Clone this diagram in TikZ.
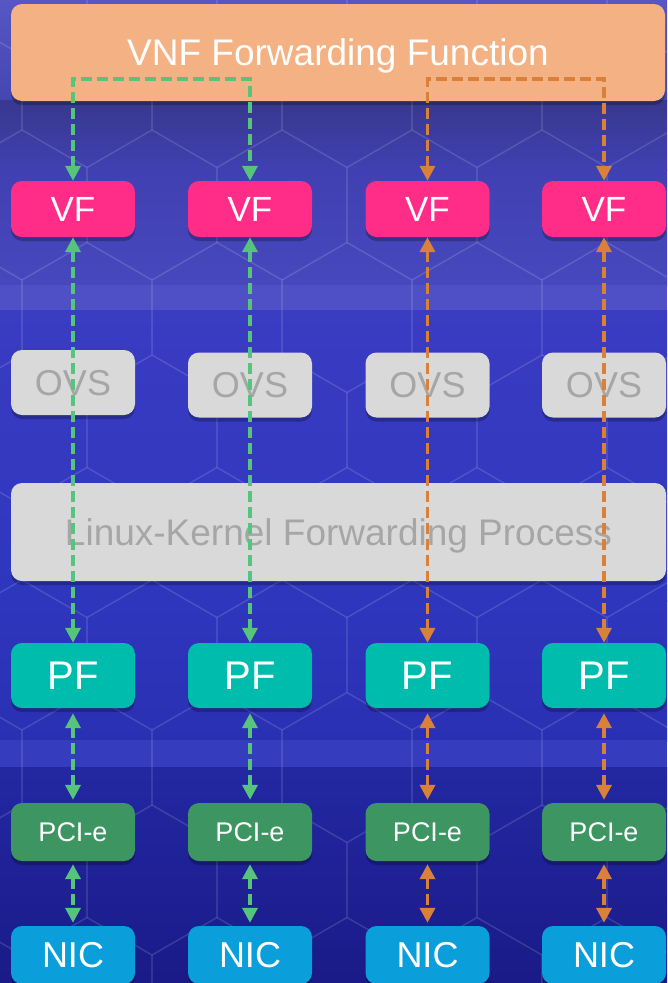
\documentclass[tikz,border=0pt]{standalone}
\usepackage{fontspec}
\setmainfont{Liberation Sans}
\usetikzlibrary{arrows.meta,shadows}
\definecolor{vnfc}{HTML}{F4B183}
\definecolor{vfc}{HTML}{FF2D88}
\definecolor{ovsc}{HTML}{D9D9D9}
\definecolor{ovst}{HTML}{A6A6A6}
\definecolor{pfc}{HTML}{00BCAD}
\definecolor{pcic}{HTML}{3D9562}
\definecolor{nicc}{HTML}{0A9FDB}
\definecolor{garr}{HTML}{57C47C}
\definecolor{oarr}{HTML}{D9803A}
\definecolor{bgA}{HTML}{5656C4}
\definecolor{bgB}{HTML}{4646B2}
\definecolor{bgC}{HTML}{38388E}
\definecolor{bgD}{HTML}{4040B2}
\definecolor{bgE}{HTML}{4848BE}
\definecolor{bgF}{HTML}{5050C6}
\definecolor{bgG}{HTML}{3A3CC2}
\definecolor{bgH}{HTML}{2E36BE}
\definecolor{bgI}{HTML}{2A30B2}
\definecolor{bgJ}{HTML}{363CBE}
\definecolor{bgK}{HTML}{2328A2}
\definecolor{bgL}{HTML}{1A1A88}
\tikzset{
  box/.style={rounded corners=11pt, inner sep=0pt, text=white, text depth=0pt,
    drop shadow={shadow xshift=0pt, shadow yshift=-4pt, opacity=0.25, fill=black}},
  smallbox/.style={box, minimum width=124pt},
  vfbox/.style={smallbox, fill=vfc, minimum height=56pt, font=\fontsize{35}{38}\selectfont},
  ovsbox/.style={smallbox, fill=ovsc, minimum height=65pt, text=ovst, font=\fontsize{36}{39}\selectfont},
  pfbox/.style={smallbox, fill=pfc, minimum height=65pt, font=\fontsize{40}{43}\selectfont},
  pcibox/.style={smallbox, fill=pcic, minimum height=58pt, font=\fontsize{27}{30}\selectfont},
  nicbox/.style={smallbox, fill=nicc, minimum height=58pt, font=\fontsize{36}{39}\selectfont},
  conn/.style={line width=3.6pt, dash pattern=on 11pt off 5pt, {Triangle[length=15pt,width=15pt]}-{Triangle[length=15pt,width=15pt]}},
  gconn/.style={conn, draw=garr},
  oconn/.style={conn, draw=oarr},
  hexline/.style={draw=white, opacity=0.07, line width=1.5pt}
}
\begin{document}
\begin{tikzpicture}[x=1pt,y=-1pt]
\useasboundingbox (0,0) rectangle (667,983);
% background
\begin{scope}
\clip (0,0) rectangle (667,983);
\shade[top color=bgA, bottom color=bgB] (0,0) rectangle (667,101);
\shade[top color=bgC, bottom color=bgD] (0,100) rectangle (667,170);
\shade[top color=bgD, bottom color=bgE] (0,169) rectangle (667,286);
\fill[bgF] (0,285) rectangle (667,311);
\shade[top color=bgG, bottom color=bgH] (0,310) rectangle (667,601);
\shade[top color=bgH, bottom color=bgI] (0,600) rectangle (667,741);
\fill[bgJ] (0,740) rectangle (667,768);
\shade[top color=bgK, bottom color=bgL] (0,767) rectangle (667,983);
\foreach \r in {0,...,10}{
  \foreach \c in {-1,...,5}{
    \pgfmathsetmacro\cx{\c*130+mod(\r,2)*65+22}
    \pgfmathsetmacro\cy{\r*112.5-20}
    \draw[hexline, shift={(\cx,\cy)}] (90:75) -- (150:75) -- (210:75) -- (270:75) -- (330:75) -- (30:75) -- cycle;
  }
}
\end{scope}
% boxes
\node[box, fill=vnfc, minimum width=654pt, minimum height=97pt, font=\fontsize{37}{40}\selectfont] (vnf) at (338,52.5) {VNF Forwarding Function};
\node[box, fill=ovsc, text=ovst, minimum width=655pt, minimum height=98pt, font=\fontsize{37}{40}\selectfont] (lk) at (338.5,532) {Linux-Kernel Forwarding Process};
\foreach \i/\x in {1/73,2/250,3/427.5,4/604}{
  \node[vfbox] (vf\i) at (\x,209) {VF};
  \node[pfbox] (pf\i) at (\x,675.5) {PF};
  \node[pcibox] (pci\i) at (\x,832) {PCI-e};
  \node[nicbox] (nic\i) at (\x,955) {NIC};
}
\node[ovsbox] (ovs1) at (73,382.5) {OVS};
\node[ovsbox] (ovs2) at (250,385) {OVS};
\node[ovsbox] (ovs3) at (427.5,385) {OVS};
\node[ovsbox] (ovs4) at (604,385) {OVS};
% connectors
\coordinate (gtop) at (162,79);
\coordinate (otop) at (516,79);
\draw[gconn] (vf1.north) |- (gtop) -| (vf2.north);
\draw[oconn] (vf3.north) |- (otop) -| (vf4.north);
\foreach \i/\s in {1/gconn,2/gconn,3/oconn,4/oconn}{
  \draw[\s] (vf\i.south) -- (pf\i.north);
  \draw[\s, shorten <=5pt, shorten >=3pt] (pf\i.south) -- (pci\i.north);
  \draw[\s, shorten <=3pt, shorten >=3pt] (pci\i.south) -- (nic\i.north);
}
\end{tikzpicture}
\end{document}
